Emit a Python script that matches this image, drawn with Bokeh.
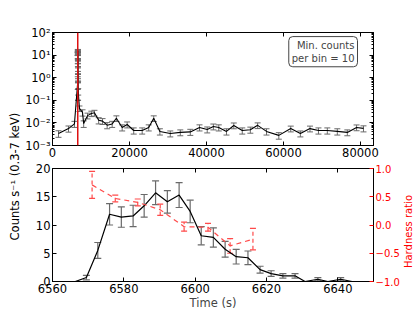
import math
from bokeh.plotting import figure
from bokeh.models import (Range1d, LinearAxis, LogAxis, FixedTicker, NumeralTickFormatter,
                          CustomJSTickFormatter, Whisker, TeeHead, ColumnDataSource,
                          Span, Label)
from bokeh.layouts import row, column
from bokeh.embed import file_html
from bokeh.resources import INLINE

FONT = "DejaVu Sans"

# ---------------- data ----------------
# Top panel: full light curve, count rate (0.3-7 keV), min. 10 counts per bin
pre_t = [1560, 4160, 5700]
pre_rate = [0.0034, 0.0056, 0.0090]
pre_err = [0.0011, 0.0017, 0.0027]

post_t = [6680, 7000, 7800, 8100, 9100, 10100, 10900, 12000, 13000, 14200,
          15500, 16600, 18100, 19400, 21100, 23300, 25000, 26300, 27900, 30600,
          33200, 35800, 38200, 40200, 41800, 43200, 45200, 47100, 49300, 51400,
          53300, 55600, 58800, 61900, 64400, 66900, 69100, 71400, 74000, 76600,
          79000, 80800]
post_rate = [0.25, 0.044, 0.029, 0.0093, 0.021, 0.026, 0.028, 0.013, 0.012, 0.0079,
             0.009, 0.016, 0.0063, 0.0085, 0.0046, 0.0046, 0.0063, 0.016, 0.0042, 0.0034,
             0.0038, 0.0040, 0.0063, 0.0051, 0.0069, 0.0063, 0.0042, 0.0077, 0.0046, 0.0050,
             0.0078, 0.0042, 0.0028, 0.0056, 0.0034, 0.0056, 0.0046, 0.0046, 0.0042, 0.0038,
             0.0063, 0.0057]
post_err = [0.08, 0.012, 0.009, 0.003, 0.006, 0.007, 0.008, 0.004, 0.0035, 0.0024,
            0.0027, 0.0045, 0.0019, 0.0025, 0.0014, 0.0014, 0.0019, 0.0045, 0.0013, 0.0010,
            0.0011, 0.0012, 0.0019, 0.0015, 0.0020, 0.0019, 0.0013, 0.0022, 0.0014, 0.0015,
            0.0022, 0.0013, 0.0009, 0.0016, 0.0010, 0.0016, 0.0014, 0.0014, 0.0013, 0.0011,
            0.0018, 0.0017]

# Bottom panel: the burst
burst_t = [6559.8, 6563.1, 6566.4, 6569.5, 6572.7, 6576.0, 6579.3, 6582.6, 6585.7,
           6588.9, 6592.2, 6595.5, 6598.6, 6601.7, 6605.1, 6608.4, 6611.5, 6614.8,
           6618.2, 6621.3, 6624.6, 6628.0, 6630.8, 6634.4, 6637.2, 6640.8, 6644.0]
burst_rate = [0, 0, 0, 0.7, 5.5, 11.9, 11.4, 11.6, 13.4,
              15.7, 14.1, 15.3, 12.4, 8.1, 7.8, 5.7, 4.4, 4.2,
              2.1, 1.4, 1.0, 1.0, 0, 0.4, 0, 0.4, 0]
burst_err = [0, 0, 0, 0.4, 1.4, 1.9, 1.8, 1.9, 2.0,
             2.1, 2.0, 2.2, 2.0, 1.6, 1.7, 1.4, 1.3, 1.2,
             0.6, 0.5, 0.4, 0.4, 0, 0.3, 0, 0.3, 0]

# Hardness ratio during the burst
hr_t = [6571.1, 6577.6, 6583.9, 6590.2, 6596.9, 6603.6, 6609.8, 6616.2]
hr = [0.71, 0.47, 0.40, 0.27, -0.03, -0.04, -0.37, -0.25]
hr_err = [0.24, 0.06, 0.06, 0.10, 0.08, 0.07, 0.13, 0.19]

trigger_t = 6560

top_xticks = [0, 20000, 40000, 60000, 80000]
top_yticks = [1e-3, 1e-2, 1e-1, 1e0, 1e1, 1e2]
bot_xticks = [6560, 6580, 6600, 6620, 6640]
bot_yticks = [0, 5, 10, 15, 20]
hr_ticks = [-1.0, -0.5, 0.0, 0.5, 1.0]

note_text = "Min. counts\nper bin = 10"
ylabel_text = "Counts s\u207b\u00b9 (0.3-7 keV)"
hr_label_text = "Hardness ratio"

# ---------------- helpers ----------------
ERR_COLOR = "#6a6a6a"
RED = "#ff0000"
HR_COLOR = "#ff4a4a"
FW, FH = 321, 113
LEFT = 30
LABW = 22
TICKSIZE = "11.5px"
BOT_H = 7 + FH + 28


def style_axis(ax, size=TICKSIZE, color="black"):
    ax.major_label_text_font = FONT
    ax.major_label_text_font_size = size
    ax.major_label_text_color = color
    ax.axis_label_text_font = FONT
    ax.axis_label_text_font_style = "normal"
    ax.axis_label_text_font_size = "11.5px"
    ax.major_tick_in = 4
    ax.major_tick_out = 0
    ax.minor_tick_in = 2
    ax.minor_tick_out = 0
    ax.major_label_standoff = 2
    ax.axis_label_standoff = 1
    ax.axis_line_color = "black"
    ax.major_tick_line_color = "black"
    ax.minor_tick_line_color = "black"


def mirror(ax):
    style_axis(ax)
    ax.formatter = CustomJSTickFormatter(code="return '';")
    ax.major_label_text_font_size = "0px"
    ax.major_label_standoff = 0
    return ax


def label_strip(width, height, x, y, text, size, color):
    f = figure(frame_width=width, frame_height=height, x_range=Range1d(0, 1),
               y_range=Range1d(0, 1), toolbar_location=None, output_backend="svg",
               min_border=0)
    f.axis.visible = False
    f.grid.visible = False
    f.outline_line_color = None
    f.add_layout(Label(x=x, y=y, text=text, angle=math.pi / 2,
                       text_align="center", text_baseline="middle",
                       text_font=FONT, text_font_size=size, text_color=color))
    return f


# ---------------- y label strips ----------------
lab = label_strip(LABW, 310, 0.68, 0.432, ylabel_text, "11.5px", "black")
rlab = label_strip(14, BOT_H, 0.45, 1 - 63 / BOT_H, hr_label_text, "10px", RED)

# ---------------- top panel ----------------
top = figure(frame_width=FW, frame_height=FH, y_axis_type="log",
             x_range=Range1d(0, 83400), y_range=Range1d(1e-3, 1e2),
             toolbar_location=None, output_backend="svg",
             min_border_left=LEFT, min_border_right=39, min_border_top=32,
             min_border_bottom=16)
top.grid.visible = False
top.outline_line_color = "black"

t_all = pre_t + [t for t, v in zip(burst_t, burst_rate) if v > 0] + post_t
r_all = pre_rate + [v for v in burst_rate if v > 0] + post_rate
e_all = pre_err + [e for v, e in zip(burst_rate, burst_err) if v > 0] + post_err
src_top = ColumnDataSource(dict(t=t_all, r=r_all,
                                lo=[r - e for r, e in zip(r_all, e_all)],
                                hi=[r + e for r, e in zip(r_all, e_all)]))
top.add_layout(Whisker(source=src_top, base="t", lower="lo", upper="hi",
                       line_color=ERR_COLOR, line_width=1,
                       lower_head=TeeHead(size=6, line_color=ERR_COLOR, line_width=1),
                       upper_head=TeeHead(size=6, line_color=ERR_COLOR, line_width=1)))
top.line("t", "r", source=src_top, line_color="black", line_width=1.1)
top.add_layout(Span(location=trigger_t, dimension="height", line_color="#dd1111",
                    line_width=1.5))

minor_log = [m * 10 ** k for k in range(-3, 2) for m in range(2, 10)]
top.xaxis.ticker = FixedTicker(ticks=top_xticks)
top.xaxis.formatter = NumeralTickFormatter(format="0")
top.yaxis.ticker = FixedTicker(ticks=top_yticks, minor_ticks=minor_log)
top.yaxis.formatter = CustomJSTickFormatter(code="""
const sup = {'-':'\u207b','0':'\u2070','1':'\u00b9','2':'\u00b2','3':'\u00b3',
             '4':'\u2074','5':'\u2075','6':'\u2076','7':'\u2077','8':'\u2078','9':'\u2079'};
const e = Math.round(Math.log10(tick));
return '10' + String(e).split('').map(c => sup[c]).join('');
""")
for ax in top.xaxis + top.yaxis:
    style_axis(ax)
top.add_layout(mirror(LinearAxis(ticker=FixedTicker(ticks=top_xticks))), "above")
top.add_layout(mirror(LogAxis(ticker=FixedTicker(ticks=top_yticks, minor_ticks=minor_log))),
               "right")

top.add_layout(Label(x=79240, y=66, text=note_text, text_align="right",
                     text_baseline="top", text_font=FONT, text_font_size="10px",
                     padding=3, border_radius=4, border_line_color="#444444",
                     border_line_width=1, background_fill_color="white"))

# ---------------- bottom panel ----------------
bot = figure(frame_width=FW, frame_height=FH,
             x_range=Range1d(6560, 6650), y_range=Range1d(0, 20),
             toolbar_location=None, output_backend="svg",
             min_border_left=LEFT, min_border_right=25, min_border_top=7,
             min_border_bottom=28)
bot.grid.visible = False
bot.outline_line_color = "black"
bot.extra_y_ranges = {"hr": Range1d(-1, 1)}

src_b = ColumnDataSource(dict(t=burst_t, r=burst_rate))
eb = [(t, r, e) for t, r, e in zip(burst_t, burst_rate, burst_err) if e > 0]
src_be = ColumnDataSource(dict(t=[x[0] for x in eb],
                               lo=[x[1] - x[2] for x in eb],
                               hi=[x[1] + x[2] for x in eb]))
bot.add_layout(Whisker(source=src_be, base="t", lower="lo", upper="hi",
                       line_color=ERR_COLOR, line_width=1.2,
                       lower_head=TeeHead(size=7, line_color=ERR_COLOR, line_width=1.2),
                       upper_head=TeeHead(size=7, line_color=ERR_COLOR, line_width=1.2)))
bot.line("t", "r", source=src_b, line_color="black", line_width=1.2)

src_hr = ColumnDataSource(dict(t=hr_t, h=hr,
                               lo=[h - e for h, e in zip(hr, hr_err)],
                               hi=[h + e for h, e in zip(hr, hr_err)]))
bot.add_layout(Whisker(source=src_hr, base="t", lower="lo", upper="hi",
                       y_range_name="hr", line_color=HR_COLOR, line_width=1.2,
                       line_dash="4 3",
                       lower_head=TeeHead(size=6, line_color=HR_COLOR, line_width=1.2),
                       upper_head=TeeHead(size=6, line_color=HR_COLOR, line_width=1.2)))
bot.line("t", "h", source=src_hr, y_range_name="hr", line_color=HR_COLOR,
         line_width=1.2, line_dash="5 4")

bot.xaxis.ticker = FixedTicker(ticks=bot_xticks)
bot.yaxis.ticker = FixedTicker(ticks=bot_yticks)
bot.xaxis.axis_label = "Time (s)"
for ax in bot.xaxis + bot.yaxis:
    style_axis(ax)
bot.xaxis.axis_label_standoff = 0
bot.add_layout(mirror(LinearAxis(ticker=FixedTicker(ticks=bot_xticks))), "above")

hr_axis = LinearAxis(y_range_name="hr", ticker=FixedTicker(ticks=hr_ticks))
style_axis(hr_axis, size="10px", color=RED)
hr_axis.formatter = CustomJSTickFormatter(
    code="return (tick < 0 ? '\u2212' : '') + Math.abs(tick).toFixed(1);")
hr_axis.major_tick_line_color = RED
hr_axis.axis_line_color = "black"
bot.add_layout(hr_axis, "right")

layout = row(lab, column(top, row(bot, rlab, spacing=0), spacing=0), spacing=0)
open("out.html", "w").write(file_html(layout, INLINE))
